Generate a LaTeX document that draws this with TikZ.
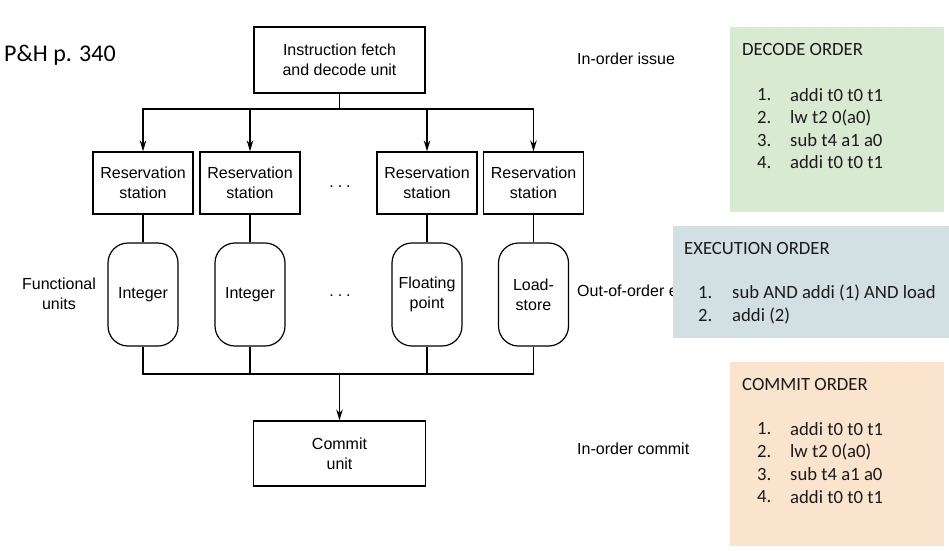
\documentclass[tikz,border=0pt]{standalone}
\usepackage{fontspec}
\setmainfont{Liberation Sans}
\newfontfamily\calib{Carlito}
\usetikzlibrary{arrows.meta}
\definecolor{decodegreen}{HTML}{D9EAD3}
\definecolor{execblue}{HTML}{D2DFE3}
\definecolor{commitpeach}{HTML}{FBE4CE}
\definecolor{listtext}{HTML}{1A1A1A}
\tikzset{
  unitbox/.style={draw, line width=1.2pt, align=center, inner sep=0pt,
    font=\fontsize{16}{20}\selectfont},
  rsbox/.style={unitbox, minimum width=100pt, minimum height=62pt},
  fubox/.style={unitbox, rounded corners=20pt, minimum width=70pt, minimum height=103pt},
  arr/.style={line width=1.2pt, -{Stealth[length=11pt,width=6.5pt]}},
  wire/.style={line width=1.2pt},
  lbl/.style={font=\fontsize{16}{20}\selectfont, inner sep=0pt, align=center},
  calibtxt/.style={font=\calib\fontsize{18.7}{22}\selectfont, inner sep=0pt, anchor=west, text=listtext},
}
\begin{document}
\begin{tikzpicture}[x=1pt,y=-1pt]
\useasboundingbox (0,0) rectangle (949,550);
\fill[white] (0,0) rectangle (949,550);

\node[font=\calib\fontsize{24}{28}\selectfont, anchor=west, inner sep=0pt] (ph) at (4,55) {P\&H p. 340};

\node[unitbox, minimum width=171pt, minimum height=66pt] (fetch) at (339.5,60) {Instruction fetch\\and decode unit};

\node[rsbox] (rs1) at (143,183) {Reservation\\station};
\node[rsbox] (rs2) at (250,183) {Reservation\\station};
\node[rsbox] (rs3) at (427,183) {Reservation\\station};
\node[rsbox] (rs4) at (533.5,183) {Reservation\\station};
\node[lbl] (dots1) at (340,187) {.\hspace{4pt}.\hspace{4pt}.};

\node[fubox] (fu1) at (143,294.5) {Integer};
\node[fubox] (fu2) at (250,294.5) {Integer};
\node[fubox] (fu3) at (427,294.5) {Floating\\point};
\node[fubox] (fu4) at (533.5,294.5) {Load-\\store};
\node[lbl] (dots2) at (340,296) {.\hspace{4pt}.\hspace{4pt}.};
\node[lbl] (funits) at (59,294) {Functional\\units};

\node[unitbox, minimum width=172pt, minimum height=65pt] (commit) at (339.5,453.5) {Commit\\unit};
\draw[line width=2.4pt] (commit.south west) ++(0,-0.6) -- ++(172,0);

\coordinate (bt) at (339.5,109);
\coordinate (bb) at (339.5,374);
\draw[wire] (fetch.south) -- (bt);
\foreach \r in {rs1,rs2,rs3,rs4} { \draw[arr] (bt) -| (\r.north); }
\draw[wire] (rs1.south) -- (fu1.north);
\draw[wire] (rs2.south) -- (fu2.north);
\draw[wire] (rs3.south) -- (fu3.north);
\draw[wire] (rs4.south) -- (fu4.north);
\foreach \f in {fu1,fu2,fu3,fu4} { \draw[wire] (\f.south) |- (bb); }
\draw[arr] (bb) -- (commit.north);

\node[lbl, anchor=west] (issue) at (577,59) {In-order issue};
\begin{scope}
  \clip (570,270) rectangle (673,312);
  \node[lbl, anchor=west] (ooo) at (577,291) {Out-of-order execution};
\end{scope}
\node[lbl, anchor=west] (icommit) at (577,449) {In-order commit};

% Decode order
\fill[decodegreen] (730,27) rectangle (944,212);
\node[calibtxt] (dh) at (742,49) {DECODE ORDER};
\node[calibtxt] (dn1) at (757,95) {1.};
\node[calibtxt] (dt1) at (790,95) {addi t0 t0 t1};
\node[calibtxt] (dn2) at (757,117.5) {2.};
\node[calibtxt] (dt2) at (790,117.5) {lw t2 0(a0)};
\node[calibtxt] (dn3) at (757,140) {3.};
\node[calibtxt] (dt3) at (790,140) {sub t4 a1 a0};
\node[calibtxt] (dn4) at (757,162.5) {4.};
\node[calibtxt] (dt4) at (790,162.5) {addi t0 t0 t1};

% Execution order
\fill[execblue] (673,226) rectangle (949,338);
\node[calibtxt] (eh) at (684,248) {EXECUTION ORDER};
\node[calibtxt] (en1) at (698,293) {1.};
\node[calibtxt] (et1) at (732,293) {sub AND addi (1) AND load};
\node[calibtxt] (en2) at (698,315.5) {2.};
\node[calibtxt] (et2) at (732,315.5) {addi (2)};

% Commit order
\fill[commitpeach] (730,362) rectangle (944,546);
\node[calibtxt] (ch) at (742,384) {COMMIT ORDER};
\node[calibtxt] (cn1) at (757,429) {1.};
\node[calibtxt] (ct1) at (790,429) {addi t0 t0 t1};
\node[calibtxt] (cn2) at (757,451.5) {2.};
\node[calibtxt] (ct2) at (790,451.5) {lw t2 0(a0)};
\node[calibtxt] (cn3) at (757,474.5) {3.};
\node[calibtxt] (ct3) at (790,474.5) {sub t4 a1 a0};
\node[calibtxt] (cn4) at (757,497) {4.};
\node[calibtxt] (ct4) at (790,497) {addi t0 t0 t1};
\end{tikzpicture}
\end{document}
